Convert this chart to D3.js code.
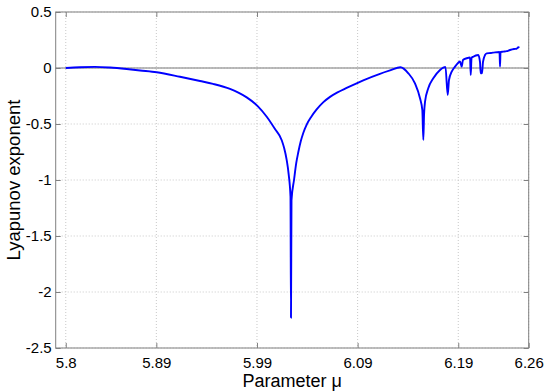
<!DOCTYPE html>
<html>
<head>
<meta charset="utf-8">
<script src="https://cdn.jsdelivr.net/npm/d3@7"></script>
<style>
	html, body { margin: 0; padding: 0; background: white; }
	#outer { width: 550px; height: 392px; }
</style>
</head>
<body>
<div id="outer"></div>
<script>
////////// DATA //////////
const xTickValues = [5.8, 5.89, 5.99, 6.09, 6.19, 6.26];
const yTickValues = [0.5, 0, -0.5, -1, -1.5, -2, -2.5];
const xDomain = [5.79, 6.26];
const yDomain = [-2.5, 0.5];

// parameter mu
const muValues = [
	5.800, 5.814, 5.829, 5.844, 5.8605, 5.8738, 5.8904, 5.9135, 5.9334, 5.9463,
	5.9632, 5.9720, 5.9798, 5.9907, 5.9997, 6.0079, 6.0146, 6.0170, 6.0195, 6.0215,
	6.0233, 6.0238, 6.0243, 6.0268, 6.0290, 6.0311, 6.0335, 6.0360, 6.0394, 6.0440,
	6.0493, 6.0560, 6.0626, 6.0700, 6.0791, 6.0956, 6.1122, 6.1222, 6.1326,
	6.1404, 6.1470, 6.1520, 6.1543, 6.1553, 6.1560, 6.1570, 6.1602,
	6.1652, 6.1719, 6.1751, 6.1773, 6.1795, 6.1808, 6.1835, 6.1868, 6.1898, 6.1917,
	6.1934, 6.1947, 6.1984, 6.2017, 6.2024, 6.2032, 6.2049, 6.2099, 6.2116, 6.2123,
	6.2136, 6.2146, 6.2166, 6.2183, 6.2225, 6.2265, 6.2310, 6.2315, 6.2320, 6.2348,
	6.2380, 6.2414, 6.2454, 6.2480, 6.2497, 6.2507
];
// Lyapunov exponent
const lyapValues = [
	0.000, 0.007, 0.010, 0.004, -0.009, -0.022, -0.038, -0.078, -0.116, -0.142,
	-0.187, -0.222, -0.262, -0.340, -0.435, -0.545, -0.645, -0.715, -0.820, -0.950,
	-1.150, -2.230, -1.180, -1.000, -0.850, -0.750, -0.655, -0.580, -0.505, -0.435,
	-0.370, -0.305, -0.258, -0.218, -0.178, -0.110, -0.052, -0.022, 0.007,
	-0.047, -0.137, -0.270, -0.375, -0.643, -0.420, -0.300, -0.181,
	-0.092, -0.018, 0.003, 0.009, -0.241, -0.107, -0.033, 0.012, 0.045, 0.058,
	0.012, 0.071, 0.087, 0.094, -0.063, 0.089, 0.101, 0.116, 0.054, -0.047,
	-0.045, 0.054, 0.116, 0.131, 0.134, 0.140, 0.143, 0.012, 0.143, 0.146,
	0.150, 0.161, 0.170, 0.172, 0.185, 0.180
];

////////// SIZING //////////
const width = 550, height = 392;
const margin = {top: 12, left: 55.7, right: 21.3, bottom: 44};
const plotW = width - margin.left - margin.right;
const plotH = height - margin.top - margin.bottom;
const font = 'Arial, "Liberation Sans", sans-serif';
const fmtTick = d => String(d);	// plain hyphen minus, like the original

const x = d3.scaleLinear().domain(xDomain).range([0, plotW]);
const y = d3.scaleLinear().domain(yDomain).range([plotH, 0]);

const svg = d3.select('#outer').append('svg')
	.attr('width', width)
	.attr('height', height)
	.style('font-family', font);

svg.append('rect').attr('width', width).attr('height', height).attr('fill', 'white');

const g = svg.append('g').attr('transform', `translate(${margin.left},${margin.top})`);

// ********** GRID ********** //
g.append('g').selectAll('line')
	.data(xTickValues)
	.join('line')
	.attr('x1', d => x(d)).attr('x2', d => x(d))
	.attr('y1', 0).attr('y2', plotH)
	.attr('stroke', '#c8c8c8')
	.attr('stroke-dasharray', '1,2');

g.append('g').selectAll('line')
	.data(yTickValues)
	.join('line')
	.attr('y1', d => y(d)).attr('y2', d => y(d))
	.attr('x1', 0).attr('x2', plotW)
	.attr('stroke', '#c8c8c8')
	.attr('stroke-dasharray', '1,2');

// zero line
g.append('line')
	.attr('x1', 0).attr('x2', plotW)
	.attr('y1', y(0)).attr('y2', y(0))
	.attr('stroke', '#7a7a7a')
	.attr('stroke-width', 1);

// ********** CURVE ********** //
const points = muValues.map((m, i) => [m, lyapValues[i]]);
g.append('path')
	.datum(points)
	.attr('fill', 'none')
	.attr('stroke', '#0000ff')
	.attr('stroke-width', 1.9)
	.attr('stroke-linejoin', 'round')
	.attr('d', d3.line().curve(d3.curveMonotoneX).x(d => x(d[0])).y(d => y(d[1])));

// ********** AXES ********** //
const styleAxis = sel => {
	sel.select('.domain').remove();
	sel.selectAll('.tick line').attr('stroke', '#808080');
	sel.selectAll('.tick text').attr('fill', 'black').style('font-size', '15px').style('font-family', font);
};

g.append('g')
	.attr('transform', `translate(0,${plotH})`)
	.call(d3.axisBottom(x).tickValues(xTickValues).tickFormat(fmtTick).tickSizeInner(-5).tickPadding(9))
	.call(styleAxis);

g.append('g')
	.call(d3.axisTop(x).tickValues(xTickValues).tickFormat('').tickSizeInner(-5))
	.call(styleAxis);

g.append('g')
	.call(d3.axisLeft(y).tickValues(yTickValues).tickFormat(fmtTick).tickSizeInner(-5).tickPadding(4))
	.call(styleAxis);

g.append('g')
	.attr('transform', `translate(${plotW},0)`)
	.call(d3.axisRight(y).tickValues(yTickValues).tickFormat('').tickSizeInner(-5))
	.call(styleAxis);

// box
g.append('rect')
	.attr('width', plotW).attr('height', plotH)
	.attr('fill', 'none')
	.attr('stroke', '#808080')
	.attr('stroke-width', 1);

// ********** TITLES ********** //
svg.append('text')
	.attr('x', margin.left + plotW / 2)
	.attr('y', 387)
	.attr('text-anchor', 'middle')
	.style('font-size', '18px')
	.text('Parameter μ');

svg.append('text')
	.attr('transform', `translate(20,${margin.top + plotH / 2}) rotate(-90)`)
	.attr('text-anchor', 'middle')
	.style('font-size', '18.5px')
	.text('Lyapunov exponent');
</script>
</body>
</html>
